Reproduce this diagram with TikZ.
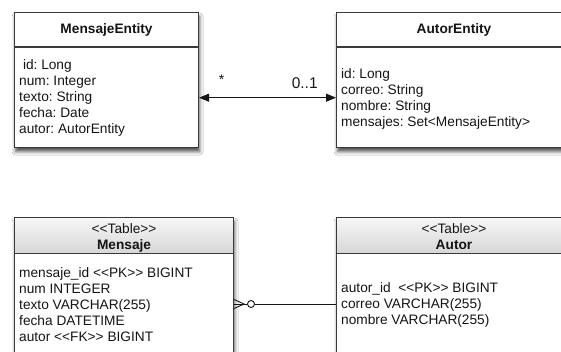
\documentclass[tikz,border=0pt]{standalone}
\usepackage{fontspec}
\setmainfont{Liberation Sans}[Ligatures=TeXOff]
\usetikzlibrary{arrows.meta,shadows.blur,calc}
\definecolor{edge}{HTML}{3A3A3A}
\definecolor{ink}{HTML}{151515}
\begin{document}
\frenchspacing
\begin{tikzpicture}[x=1pt,y=-1pt,
  box/.style={draw=edge, line width=1.1pt, fill=white, anchor=north west, inner sep=0pt,
    blur shadow={shadow xshift=1pt, shadow yshift=-4pt, shadow blur radius=3.5pt, shadow opacity=70}},
  hdr/.style={draw=edge, line width=1.1pt, anchor=north west, inner sep=0pt,
    top color=gray!6, bottom color=gray!32},
  divider/.style={draw=edge, line width=1.1pt},
  titletext/.style={anchor=base, inner sep=0pt, text=ink, font=\fontsize{13.7}{16}\selectfont\bfseries},
  stereo/.style={anchor=base, inner sep=0pt, text=ink, align=center, font=\fontsize{13.7}{15.7}\selectfont},
  attr/.style={anchor=north west, inner sep=0pt, align=left, text=ink, font=\fontsize{13.7}{16}\selectfont},
  mult/.style={anchor=center, inner sep=0pt, text=ink},
  assoc/.style={draw=ink, line width=0.9pt, {Triangle[length=10pt,width=8pt]}-{Triangle[length=10pt,width=8pt]}},
  relation/.style={draw=ink, line width=0.9pt},
]
\clip (0,0) rectangle (561,352);
\fill[white] (0,0) rectangle (561,352);

% ---- class MensajeEntity
\node[box, minimum width=184pt, minimum height=135pt] (me) at (14,12) {};
\draw[divider] (me.west |- 0,47) -- (me.east |- 0,47);
\node[titletext] (metitle) at (me.north |- 0,34) {MensajeEntity};
\node[attr] (meattr) at (19,59.5) {\hspace*{3.8pt}id: Long\\num: Integer\\texto: String\\fecha: Date\\autor: AutorEntity};

% ---- class AutorEntity
\node[box, minimum width=239pt, minimum height=135pt] (ae) at (336,12) {};
\draw[divider] (ae.west |- 0,47) -- (ae.east |- 0,47);
\node[titletext] (aetitle) at (454,34) {AutorEntity};
\node[attr] (aeattr) at (341,68.5) {id: Long\\correo: String\\nombre: String\\mensajes: Set<MensajeEntity>};

% ---- association between the classes
\draw[assoc] (me.east |- 0,97.7) -- (ae.west |- 0,97.7);
\node[mult, font=\fontsize{14}{16}\selectfont] (many) at (221.7,79.5) {*};
\node[mult, font=\fontsize{15.5}{18}\selectfont] (zeroone) at (304.7,82.7) {0..1};

% ---- table Mensaje
\node[box, minimum width=219pt, minimum height=163pt] (m) at (14,217) {};
\node[hdr, minimum width=219pt, minimum height=36pt] (mh) at (14,217) {};
\node[stereo] (mtitle) at (mh.north |- 0,249.3) {<<Table>>\\\textbf{Mensaje}};
\node[attr] (mattr) at (19,267) {mensaje\_id <<PK>> BIGINT\\num INTEGER\\texto VARCHAR(255)\\fecha DATETIME\\autor <<FK>> BIGINT};

% ---- table Autor
\node[box, minimum width=239pt, minimum height=163pt] (a) at (336,217) {};
\node[hdr, minimum width=239pt, minimum height=36pt] (ah) at (336,217) {};
\node[stereo] (atitle) at (454,249.3) {<<Table>>\\\textbf{Autor}};
\node[attr] (aattr) at (341,282.5) {autor\_id\ \ <<PK>> BIGINT\\correo VARCHAR(255)\\nombre VARCHAR(255)};

% ---- foreign key: many (optional) Mensaje to one Autor
\coordinate (crow) at (244,304);
\node[circle, draw=ink, line width=0.9pt, fill=white, inner sep=0pt, minimum size=7pt] (zero) at (251,304) {};
\draw[relation] (zero) -- (a.west |- zero);
\draw[relation] (crow) -- (zero);
\draw[relation] ($(m.east |- crow)+(0,-4.5)$) -- (crow) -- ($(m.east |- crow)+(0,4.5)$);
\draw[relation] (m.east |- crow) -- (crow);
\end{tikzpicture}
\end{document}
